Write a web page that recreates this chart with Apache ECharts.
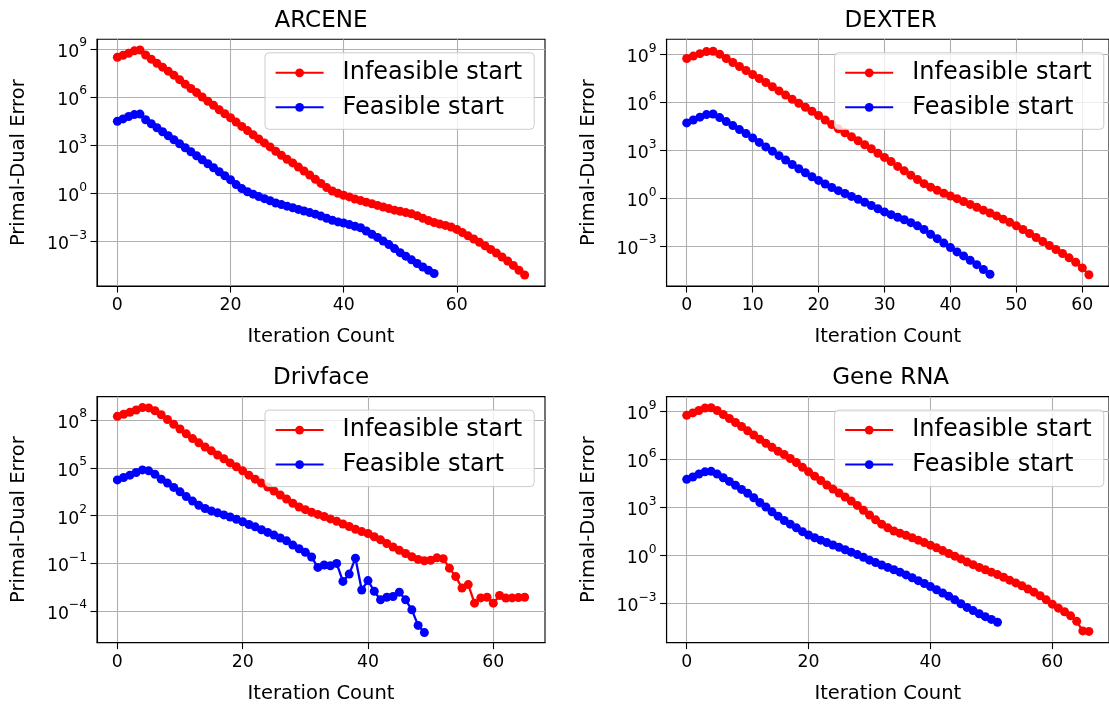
<!DOCTYPE html>
<html>
<head>
<meta charset="utf-8">
<script src="https://cdn.jsdelivr.net/npm/echarts@6/dist/echarts.min.js"></script>
<style>
html,body{margin:0;padding:0;background:#ffffff;}
#chart{width:1109px;height:705px;}
</style>
</head>
<body>
<div id="chart"></div>
<script>
// ---------------- data ----------------
const panelTitles = ['ARCENE', 'DEXTER', 'Drivface', 'Gene RNA'];
const seriesNames = ['Infeasible start', 'Feasible start'];
const xAxisTitle = 'Iteration Count';
const yAxisTitle = 'Primal-Dual Error';

// Primal-dual error per iteration, recorded as powers of ten (log10 of the error)
const arceneInfeasibleLog10 = [8.5,8.62,8.75,8.9,8.95,8.64,8.38,8.12,7.88,7.63,7.38,7.1,6.82,6.55,6.3,6.02,5.75,5.5,5.22,4.97,4.72,4.45,4.18,3.92,3.66,3.4,3.15,2.9,2.63,2.38,2.13,1.9,1.65,1.4,1.15,0.88,0.62,0.36,0.15,0.0,-0.12,-0.22,-0.35,-0.45,-0.55,-0.65,-0.75,-0.85,-0.95,-1.05,-1.12,-1.2,-1.28,-1.4,-1.55,-1.7,-1.82,-1.92,-2.0,-2.1,-2.25,-2.45,-2.65,-2.85,-3.05,-3.27,-3.5,-3.72,-3.97,-4.22,-4.5,-4.8,-5.1];
const arceneFeasibleLog10 = [4.5,4.65,4.8,4.92,4.95,4.6,4.35,4.1,3.85,3.6,3.35,3.1,2.85,2.6,2.35,2.1,1.85,1.6,1.35,1.1,0.85,0.55,0.3,0.1,-0.05,-0.2,-0.33,-0.46,-0.6,-0.7,-0.8,-0.9,-1.0,-1.1,-1.2,-1.3,-1.42,-1.55,-1.68,-1.78,-1.85,-1.95,-2.05,-2.15,-2.35,-2.55,-2.75,-2.98,-3.2,-3.45,-3.7,-3.92,-4.15,-4.38,-4.6,-4.8,-5.0];

const dexterInfeasibleLog10 = [8.75,8.9,9.05,9.18,9.2,9.02,8.75,8.5,8.25,8.0,7.75,7.5,7.25,6.98,6.72,6.46,6.2,5.95,5.7,5.45,5.18,4.9,4.62,4.35,4.1,3.85,3.6,3.35,3.1,2.82,2.56,2.3,2.0,1.72,1.45,1.18,0.92,0.7,0.5,0.32,0.15,-0.02,-0.2,-0.38,-0.56,-0.74,-0.92,-1.1,-1.3,-1.5,-1.72,-1.95,-2.2,-2.45,-2.7,-2.95,-3.2,-3.45,-3.72,-4.0,-4.35,-4.78];
const dexterFeasibleLog10 = [4.72,4.9,5.08,5.24,5.28,5.05,4.8,4.55,4.3,4.05,3.78,3.5,3.22,2.95,2.67,2.4,2.12,1.85,1.6,1.35,1.12,0.9,0.68,0.48,0.3,0.12,-0.06,-0.25,-0.45,-0.65,-0.85,-1.02,-1.18,-1.34,-1.52,-1.72,-1.95,-2.25,-2.52,-2.8,-3.08,-3.35,-3.6,-3.88,-4.15,-4.45,-4.75];

const drivfaceInfeasibleLog10 = [8.25,8.38,8.5,8.65,8.8,8.78,8.6,8.35,8.05,7.75,7.45,7.15,6.85,6.58,6.32,6.08,5.82,5.58,5.32,5.08,4.82,4.55,4.3,4.05,3.8,3.55,3.3,3.05,2.78,2.55,2.38,2.22,2.08,1.95,1.8,1.65,1.48,1.32,1.15,1.0,0.88,0.68,0.48,0.25,0.03,-0.17,-0.38,-0.58,-0.75,-0.83,-0.8,-0.65,-0.7,-1.3,-1.83,-2.55,-2.33,-3.5,-3.17,-3.13,-3.5,-3.02,-3.18,-3.17,-3.15,-3.13];
const drivfaceFeasibleLog10 = [4.25,4.4,4.55,4.72,4.88,4.82,4.6,4.3,4.05,3.78,3.5,3.2,2.92,2.65,2.45,2.3,2.18,2.05,1.92,1.78,1.62,1.45,1.3,1.12,0.95,0.78,0.6,0.42,0.15,-0.08,-0.3,-0.6,-1.25,-1.1,-1.15,-1.0,-2.13,-1.67,-0.67,-2.67,-2.08,-2.75,-3.29,-3.13,-3.08,-2.81,-3.29,-3.92,-4.9,-5.35];

const geneInfeasibleLog10 = [8.75,8.9,9.05,9.2,9.22,9.05,8.8,8.55,8.3,8.05,7.78,7.52,7.25,7.0,6.75,6.5,6.3,6.05,5.8,5.5,5.22,4.95,4.68,4.4,4.15,3.9,3.65,3.4,3.12,2.82,2.52,2.22,1.95,1.72,1.52,1.38,1.25,1.1,0.95,0.8,0.64,0.47,0.3,0.12,-0.05,-0.22,-0.42,-0.58,-0.75,-0.9,-1.05,-1.2,-1.37,-1.55,-1.72,-1.9,-2.1,-2.3,-2.52,-2.78,-3.05,-3.3,-3.52,-3.78,-4.12,-4.72,-4.75];
const geneFeasibleLog10 = [4.75,4.9,5.08,5.22,5.25,5.08,4.85,4.62,4.38,4.12,3.88,3.6,3.3,3.02,2.72,2.45,2.18,1.95,1.72,1.48,1.27,1.1,0.95,0.8,0.65,0.5,0.35,0.2,0.05,-0.12,-0.3,-0.45,-0.6,-0.75,-0.9,-1.05,-1.22,-1.4,-1.58,-1.76,-1.95,-2.15,-2.35,-2.55,-2.78,-3.02,-3.25,-3.45,-3.65,-3.83,-4.0,-4.18];

// tick labels
const xTicksBy20 = [0, 20, 40, 60];
const xTicksBy10 = [0, 10, 20, 30, 40, 50, 60];
const yTicksMain = [1e9, 1e6, 1e3, 1, 1e-3];
const yTicksDrivface = [1e8, 1e5, 1e2, 1e-1, 1e-4];

// ---------------- layout / style ----------------
const FONT = '"DejaVu Sans", "Noto Sans", sans-serif';
const RED = '#ff0000', BLUE = '#0000ff';
const PW = 448;
const panels = [
  { title: panelTitles[0], left: 97,    top: 39.3,  h: 246.8, x: [-3.6, 75.6],   y: [-5.79, 9.62], xt: xTicksBy20, yt: yTicksMain,     red: arceneInfeasibleLog10,   blue: arceneFeasibleLog10 },
  { title: panelTitles[1], left: 666.6, top: 39.3,  h: 246.8, x: [-3.05, 64.05], y: [-5.49, 9.95], xt: xTicksBy10, yt: yTicksMain,     red: dexterInfeasibleLog10,   blue: dexterFeasibleLog10 },
  { title: panelTitles[2], left: 97,    top: 396.6, h: 246,   x: [-3.25, 68.25], y: [-5.98, 9.49], xt: xTicksBy20, yt: yTicksDrivface, red: drivfaceInfeasibleLog10, blue: drivfaceFeasibleLog10 },
  { title: panelTitles[3], left: 666.6, top: 396.6, h: 246,   x: [-3.3, 69.3],   y: [-5.45, 9.92], xt: xTicksBy20, yt: yTicksMain,     red: geneInfeasibleLog10,     blue: geneFeasibleLog10 }
];

function powLabel(v) {
  const e = Math.round(Math.log10(v));
  const s = e < 0 ? '\u2212' + Math.abs(e) : String(e);
  return '{b|10}{s|' + s + '}';
}

const grids = [], xAxes = [], yAxes = [], series = [], legends = [], graphics = [];
panels.forEach((p, i) => {
  grids.push({ left: p.left, top: p.top, width: PW, height: p.h, show: true, borderColor: '#000', borderWidth: 1.1, backgroundColor: 'rgba(0,0,0,0)', containLabel: false });
  xAxes.push({
    type: 'value', gridIndex: i, min: p.x[0], max: p.x[1],
    name: xAxisTitle, nameLocation: 'middle', nameGap: 41,
    nameTextStyle: { fontSize: 19.5, color: '#000', fontFamily: FONT },
    axisLine: { show: true, onZero: false, lineStyle: { color: '#000', width: 1.1 } },
    axisTick: { show: true, inside: false, length: 6.5, lineStyle: { color: '#000', width: 1.1 }, customValues: p.xt },
    axisLabel: { show: true, customValues: p.xt, margin: 11, color: '#000', fontSize: 17.3, fontFamily: FONT },
    splitLine: { show: true, lineStyle: { color: '#b0b0b0', width: 1.1 } }
  });
  yAxes.push({
    type: 'log', logBase: 10, gridIndex: i, min: Math.pow(10, p.y[0]), max: Math.pow(10, p.y[1]),
    name: yAxisTitle, nameLocation: 'middle', nameGap: 68,
    nameTextStyle: { fontSize: 19.5, color: '#000', fontFamily: FONT },
    axisLine: { show: true, onZero: false, lineStyle: { color: '#000', width: 1.1 } },
    axisTick: { show: true, inside: false, length: 6.5, lineStyle: { color: '#000', width: 1.1 }, customValues: p.yt },
    axisLabel: {
      show: true, customValues: p.yt, margin: 10, formatter: powLabel,
      rich: {
        b: { fontSize: 17.3, fontFamily: FONT, color: '#000', lineHeight: 24, verticalAlign: 'bottom' },
        s: { fontSize: 12.3, fontFamily: FONT, color: '#000', lineHeight: 12, verticalAlign: 'top' }
      }
    },
    splitLine: { show: true, lineStyle: { color: '#b0b0b0', width: 1.1 } }
  });
  [[p.red, RED, seriesNames[0]], [p.blue, BLUE, seriesNames[1]]].forEach(([arr, col, nm]) => {
    series.push({
      type: 'line', name: nm, xAxisIndex: i, yAxisIndex: i,
      data: arr.map((v, k) => [k, Math.pow(10, v)]),
      symbol: 'circle', symbolSize: 9, showSymbol: true, showAllSymbol: true,
      lineStyle: { width: 2.3, color: col }, itemStyle: { color: col },
      emphasis: { disabled: true }, silent: true, animation: false, clip: true
    });
  });
  legends.push({
    data: seriesNames, orient: 'vertical', left: p.left + 168, top: p.top + 13.5,
    itemWidth: 48, itemHeight: 11, itemGap: 10.5,
    padding: [8, 12, 10, 9.6],
    backgroundColor: 'rgba(255,255,255,0.8)', borderColor: '#cccccc', borderWidth: 1, borderRadius: 4,
    selectedMode: false,
    textStyle: { fontSize: 24, color: '#000', fontFamily: FONT, padding: [0, 0, 0, 14] }
  });
  graphics.push({
    type: 'text', x: p.left + 224, y: p.top - 18.5, silent: true,
    style: { text: p.title, font: '23px ' + FONT, textAlign: 'center', textVerticalAlign: 'middle', fill: '#000' }
  });
});

const chart = echarts.init(document.getElementById('chart'), null, { renderer: 'canvas' });
chart.setOption({
  animation: false,
  backgroundColor: '#ffffff',
  grid: grids, xAxis: xAxes, yAxis: yAxes, series: series, legend: legends, graphic: graphics
});
</script>
</body>
</html>
